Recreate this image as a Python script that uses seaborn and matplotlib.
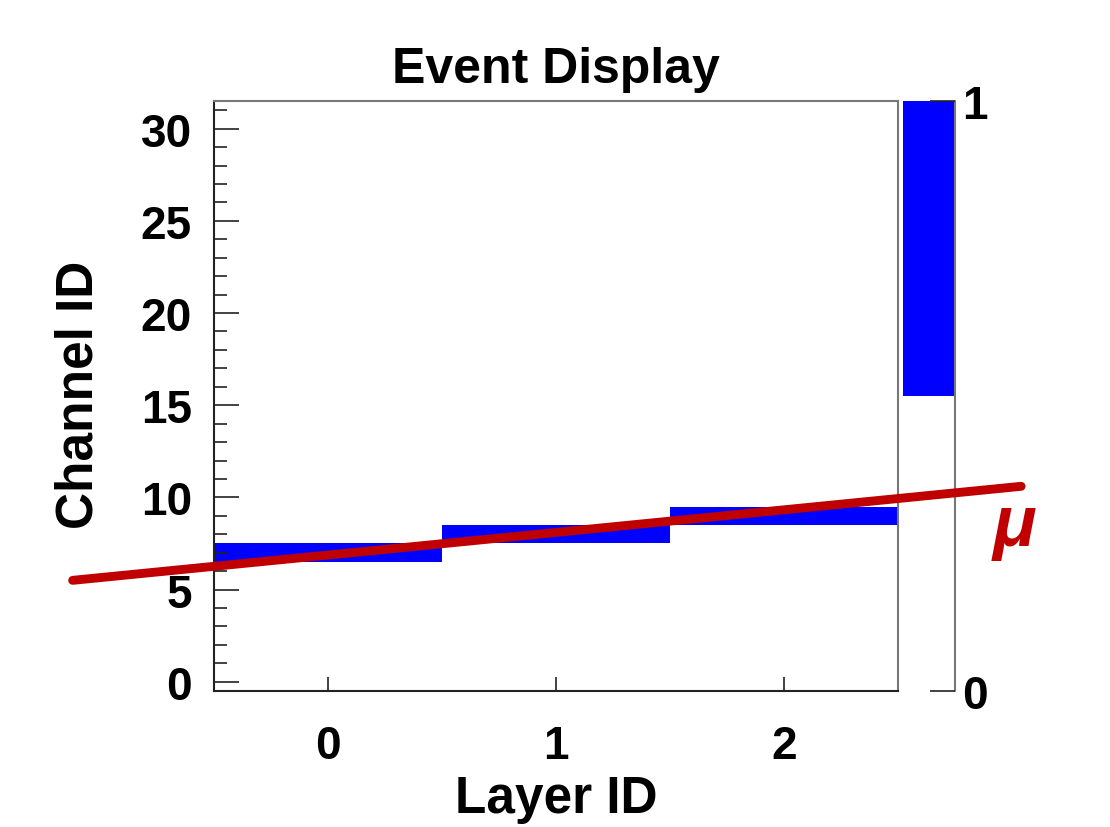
import numpy as np
import pandas as pd
import matplotlib
matplotlib.use("Agg")
import matplotlib.pyplot as plt
from matplotlib.colors import ListedColormap
import seaborn as sns

# hits in the detector
layers = [0, 1, 2]
channels = [7, 8, 9]
hits = [1, 1, 1]
n_layers = 3
n_channels = 32

# muon track (layer, channel) end points
track_x = [-1.12, 3.04]
track_y = [5.5, 10.6]

sns.set_style("white")
plt.rcParams["font.family"] = ["Liberation Sans", "DejaVu Sans"]
plt.rcParams["font.weight"] = "bold"
plt.rcParams["axes.axisbelow"] = False
plt.rcParams["text.color"] = "black"
plt.rcParams["xtick.color"] = "black"
plt.rcParams["ytick.color"] = "black"

grid = pd.DataFrame(0, index=range(n_channels), columns=range(n_layers))
for l, c, h in zip(layers, channels, hits):
    grid.loc[c, l] = h

fig = plt.figure(figsize=(11.1, 8.28), dpi=100)
ax = fig.add_axes([0.1928, 0.1643, 0.6162, 0.7125])
cax = fig.add_axes([0.8135, 0.1643, 0.0468, 0.7125])
ax.set_zorder(3)

cmap = ListedColormap(["white", "#0000ff"])
sns.heatmap(grid, ax=ax, cbar_ax=cax, cmap=cmap, vmin=0, vmax=1,
            xticklabels=False, yticklabels=False, linewidths=0)
ax.set_ylim(0, n_channels)
ax.set_xlim(0, n_layers)
ax.set_axisbelow(False)

# track line, offset by half a bin for heatmap cell coordinates
sns.lineplot(x=np.array(track_x) + 0.5, y=np.array(track_y) + 0.5, ax=ax,
             color="#c00000", linewidth=6.4, clip_on=False, zorder=5)

# axes frame
for side, s in ax.spines.items():
    s.set_visible(True)
    s.set_linewidth(1.5)
    s.set_color("#222222" if side in ("left", "bottom") else "#777777")

ax.set_xticks(np.arange(n_layers) + 0.5)
ax.set_xticklabels([str(l) for l in range(n_layers)])
ax.set_yticks(np.arange(0, 31, 5) + 0.5)
ax.set_yticklabels([str(c) for c in range(0, 31, 5)])
ax.set_yticks(np.arange(n_channels) + 0.5, minor=True)
ax.tick_params(axis="y", which="major", direction="in", length=18, width=1.2,
               labelsize=33, pad=16, left=True, right=False, color="#222222",
               labelcolor="black")
ax.tick_params(axis="y", which="minor", direction="in", length=9.5, width=1.2,
               left=True, right=False, color="#222222")
ax.tick_params(axis="x", which="major", direction="in", length=10, width=1.2,
               labelsize=33, pad=24, bottom=True, top=False, color="#222222",
               labelcolor="black")
ax.tick_params(axis="x", which="minor", bottom=False)
for lab in ax.get_xticklabels() + ax.get_yticklabels():
    lab.set_fontweight("bold")

ax.set_title("Event Display", fontsize=36, fontweight="bold", pad=14,
             color="black")
ax.set_xlabel("")
ax.set_ylabel("")
fig.text(0.501, 0.034, "Layer ID", fontsize=37, fontweight="bold",
         ha="center", va="center", color="black")
fig.text(0.0716, 0.523, "Channel ID", fontsize=37, fontweight="bold",
         ha="center", va="center", rotation=90, color="black")

# palette axis
cax.set_yticks([0, 1])
cax.set_yticklabels(["0", "1"])
cax.tick_params(axis="y", direction="in", length=18, width=1.2, right=True,
                left=False, labelright=True, labelleft=False, labelsize=33,
                pad=5, color="#222222", labelcolor="black")
for lab in cax.get_yticklabels():
    lab.set_fontweight("bold")
cax.axvline(1, color="#777777", linewidth=1.5, clip_on=False)

fig.text(0.9135, 0.364, "\u03bc", color="#c00000", fontsize=52,
         fontweight="bold", fontstyle="italic", ha="center", va="center")

fig.savefig("out.png", dpi=100)
